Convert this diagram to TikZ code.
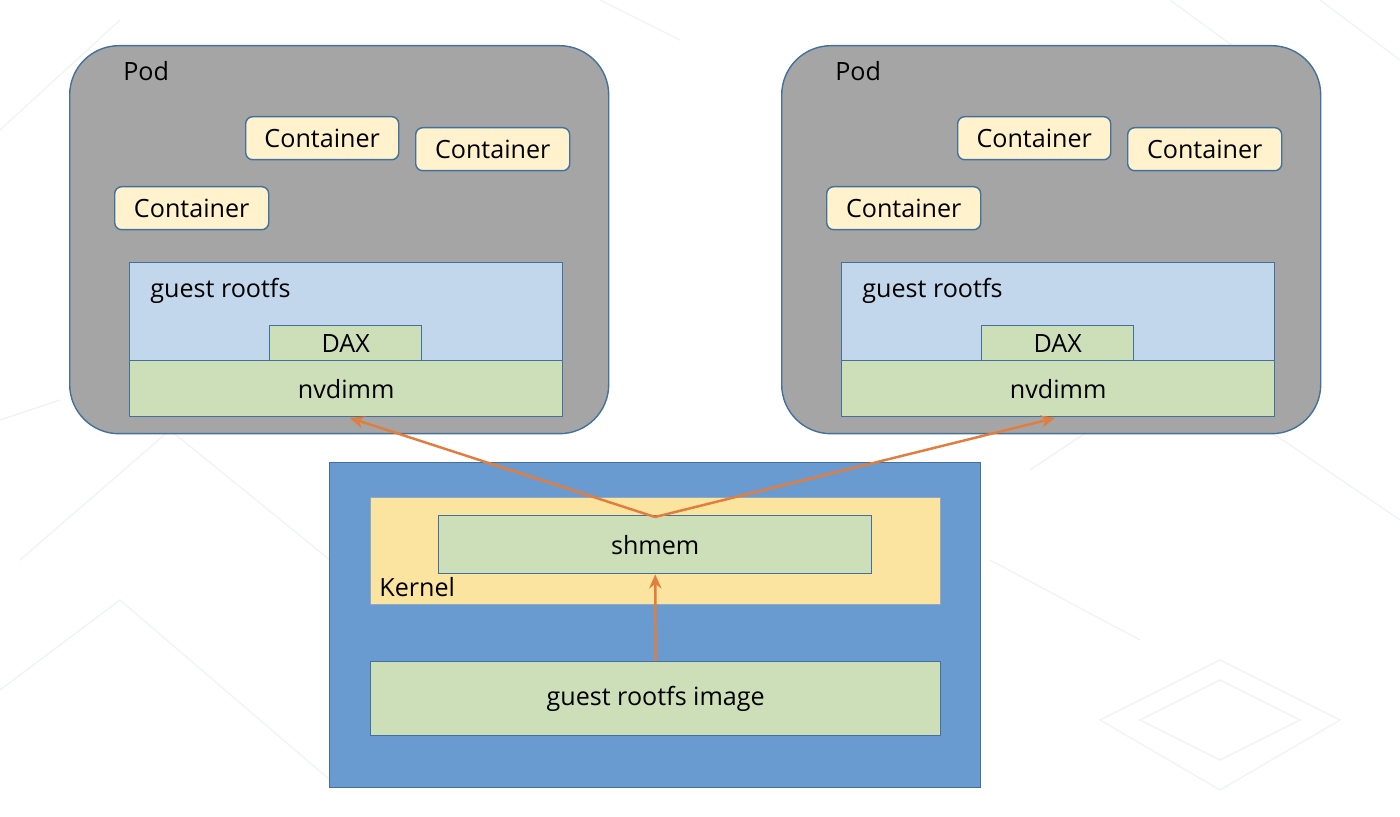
\documentclass[tikz,border=0pt]{standalone}
\usepackage{fontspec}
\setmainfont{Open Sans}
\usetikzlibrary{arrows.meta}
\definecolor{podgray}{HTML}{A5A5A5}
\definecolor{edgeblue}{HTML}{41719C}
\definecolor{contfill}{HTML}{FFF2CC}
\definecolor{rootblue}{HTML}{C2D7EC}
\definecolor{dimmgreen}{HTML}{CCDFB8}
\definecolor{hostblue}{HTML}{6A9BD0}
\definecolor{kernyellow}{HTML}{FBE3A0}
\definecolor{arrorange}{HTML}{E27D3D}
\definecolor{bgline}{HTML}{F0F3F7}
\tikzset{
  txt/.style={font=\fontsize{14.3}{17}\selectfont, text=black},
  pod/.style={draw=edgeblue, line width=0.8pt, fill=podgray, rounded corners=28pt},
  cont/.style={draw=edgeblue, line width=0.8pt, fill=contfill, rounded corners=4pt},
  rootfs/.style={draw=edgeblue, line width=0.8pt, fill=rootblue},
  green/.style={draw=edgeblue, line width=0.8pt, fill=dimmgreen},
  host/.style={draw=edgeblue, line width=0.8pt, fill=hostblue},
  kern/.style={draw=edgeblue!60, line width=0.8pt, fill=kernyellow},
  flow/.style={draw=arrorange, line width=1.4pt, -{Stealth[length=8pt,width=7pt]}},
  bgl/.style={draw=bgline, line width=0.8pt}
}
\begin{document}
\begin{tikzpicture}[x=0.02cm,y=-0.02cm]
\useasboundingbox (0,0) rectangle (1400,817);
% faint background pattern
\draw[bgl] (0,130) -- (120,20) (20,560) -- (170,430) -- (330,560) (0,690) -- (120,600) -- (330,780)
  (1030,470) -- (1180,370) -- (1400,520) (1100,720) -- (1220,660) -- (1340,720) -- (1220,790) -- cycle
  (1140,720) -- (1220,680) -- (1300,720) -- (1220,760) -- cycle (1320,0) -- (1400,60)
  (990,560) -- (1140,640) (1170,0) -- (1320,110) (600,0) -- (680,40) (0,420) -- (60,400);
% bottom host
\node[host, minimum width=651*0.02cm, minimum height=325*0.02cm, anchor=north west, inner sep=0] (host) at (329,462) {};
\node[kern, minimum width=570*0.02cm, minimum height=107*0.02cm, anchor=north west, inner sep=0] (kern) at (370,497) {};
\node[txt, anchor=base west, inner sep=0] (kernlbl) at (379,596) {Kernel};
\node[green, minimum width=433*0.02cm, minimum height=58*0.02cm, anchor=north west, inner sep=0, txt] (shmem) at (438,515) {shmem};
\node[green, minimum width=570*0.02cm, minimum height=74*0.02cm, anchor=north west, inner sep=0, txt] (image) at (370,661) {guest rootfs image};
% pods
\foreach \dx/\n in {0/L,712/R}{
  \begin{scope}[xshift=\dx*0.02cm]
  \node[pod, minimum width=539*0.02cm, minimum height=388*0.02cm, anchor=north west, inner sep=0] (pod\n) at (69,45) {};
  \node[txt, anchor=base west, inner sep=0] (podlbl\n) at (123,81) {Pod};
  \node[cont, txt, minimum width=153*0.02cm, minimum height=43*0.02cm, anchor=north west, inner sep=0] (ca\n) at (245,116) {Container};
  \node[cont, txt, minimum width=154*0.02cm, minimum height=43*0.02cm, anchor=north west, inner sep=0] (cb\n) at (415,127) {Container};
  \node[cont, txt, minimum width=154*0.02cm, minimum height=43*0.02cm, anchor=north west, inner sep=0] (cc\n) at (114,186) {Container};
  \node[rootfs, minimum width=433*0.02cm, minimum height=98*0.02cm, anchor=north west, inner sep=0] (rfs\n) at (129,262) {};
  \node[txt, anchor=base west, inner sep=0] (rfslbl\n) at (150,298) {guest rootfs};
  \node[green, txt, minimum width=433*0.02cm, minimum height=56*0.02cm, anchor=north west, inner sep=0] (nv\n) at (129,360) {nvdimm};
  \node[green, txt, minimum width=152*0.02cm, minimum height=35*0.02cm, anchor=north west, inner sep=0] (dax\n) at (269,325) {DAX};
  \end{scope}
}
\coordinate (src) at (655,517);
\coordinate (tL) at (350,418);
\coordinate (tR) at (1055,418);
\draw[flow] (src) -- (tL);
\draw[flow] (src) -- (tR);
\draw[flow] (image.north) -- (shmem.south);
\end{tikzpicture}
\end{document}
